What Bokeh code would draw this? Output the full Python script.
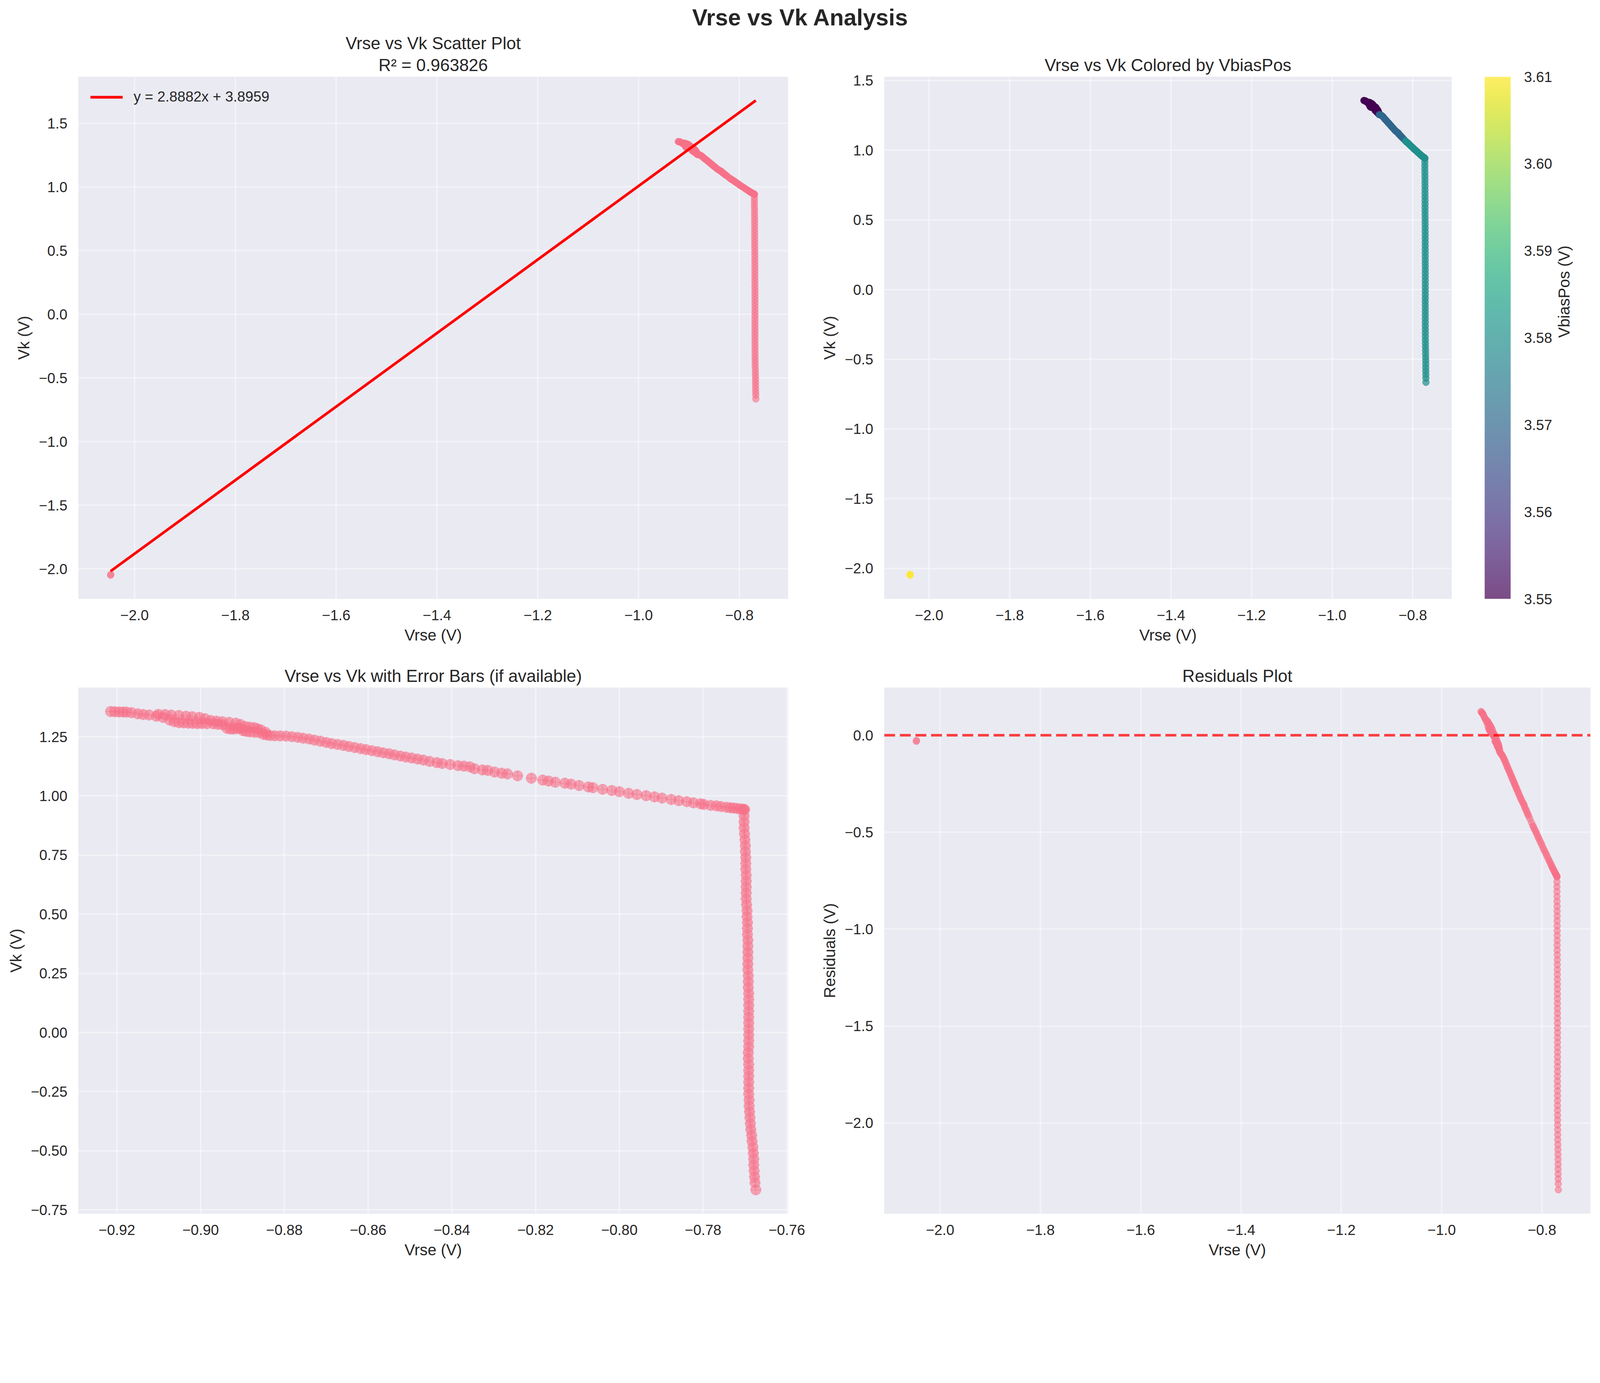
import math
import numpy as np
from bokeh.plotting import figure
from bokeh.layouts import column, row
from bokeh.models import Range1d, FixedTicker, Span, LinearColorMapper, Div, ColumnDataSource, Title
from bokeh.palettes import Viridis256
from bokeh.transform import linear_cmap
from bokeh.embed import file_html
from bokeh.resources import INLINE

# --- values --------------------------------------------------------------

# dense start of the sweep (two overlapping tracks)
cluster_vrse = [-0.9215, -0.9205, -0.9195, -0.9185, -0.9177, -0.9165, -0.9150, -0.9137, -0.9123, -0.9106,
                -0.9090, -0.9074, -0.9063, -0.9052, -0.9041, -0.9030, -0.9019, -0.9008, -0.8997, -0.8985,
                -0.8970, -0.8959, -0.8948, -0.8937, -0.8929, -0.8921, -0.8913, -0.8905, -0.8899, -0.8891,
                -0.8883, -0.8872, -0.8861, -0.8850, -0.8842,
                -0.9101, -0.9085, -0.9070, -0.9052, -0.9035, -0.9020, -0.9003, -0.8990, -0.8976, -0.8962,
                -0.8948, -0.8932, -0.8916, -0.8905, -0.8894, -0.8883, -0.8872, -0.8864, -0.8856, -0.8845]
cluster_vk = [1.357, 1.356, 1.355, 1.355, 1.3545, 1.352, 1.347, 1.344, 1.342, 1.337,
              1.332, 1.321, 1.314, 1.310, 1.309, 1.308, 1.307, 1.306, 1.306, 1.3055,
              1.305, 1.303, 1.301, 1.286, 1.283, 1.283, 1.285, 1.286, 1.276, 1.273,
              1.271, 1.269, 1.268, 1.260, 1.258,
              1.345, 1.344, 1.342, 1.340, 1.337, 1.335, 1.332, 1.327, 1.319, 1.316,
              1.314, 1.311, 1.308, 1.302, 1.294, 1.291, 1.289, 1.284, 1.279, 1.269]
cluster_bias = [3.55, 3.55, 3.55, 3.55, 3.55, 3.55, 3.55, 3.55, 3.55, 3.55,
                3.55, 3.55, 3.55, 3.55, 3.55, 3.55, 3.55, 3.55, 3.55, 3.55,
                3.55, 3.55, 3.55, 3.55, 3.55, 3.55, 3.55, 3.55, 3.55, 3.55,
                3.55, 3.55, 3.55, 3.55, 3.55,
                3.55, 3.55, 3.55, 3.55, 3.55, 3.55, 3.55, 3.55, 3.55, 3.55,
                3.55, 3.55, 3.55, 3.55, 3.55, 3.55, 3.55, 3.55, 3.55, 3.55]

# sloped part of the sweep
slope_vrse = [-0.8834, -0.8823, -0.8810, -0.8796, -0.8782, -0.8768, -0.8755, -0.8741, -0.8728, -0.8714,
              -0.8700, -0.8687, -0.8673, -0.8659, -0.8646, -0.8632, -0.8618, -0.8605, -0.8591, -0.8577,
              -0.8564, -0.8550, -0.8537, -0.8523, -0.8510, -0.8496, -0.8482, -0.8468, -0.8453, -0.8436,
              -0.8423, -0.8404, -0.8385, -0.8371, -0.8357, -0.8346, -0.8327, -0.8314, -0.8298, -0.8281,
              -0.8267, -0.8243, -0.8210]
slope_vk = [1.2555, 1.2543, 1.2536, 1.2528, 1.2505, 1.2477, 1.2443, 1.2406, 1.2360, 1.2314,
            1.2262, 1.2213, 1.2175, 1.2137, 1.2091, 1.2045, 1.2002, 1.1959, 1.1913, 1.1867,
            1.1824, 1.1781, 1.1735, 1.1689, 1.1646, 1.1603, 1.1560, 1.1516, 1.1460, 1.1410,
            1.1370, 1.1330, 1.1280, 1.1260, 1.1230, 1.1150, 1.1100, 1.1080, 1.1010, 1.0960,
            1.0930, 1.0850, 1.0750]
slope_bias = [3.57, 3.57, 3.57, 3.57, 3.57, 3.57, 3.57, 3.57, 3.57, 3.57,
              3.57, 3.57, 3.57, 3.57, 3.57, 3.57, 3.57, 3.57, 3.57, 3.57,
              3.57, 3.57, 3.57, 3.57, 3.57, 3.57, 3.57, 3.57, 3.57, 3.57,
              3.57, 3.57, 3.57, 3.57, 3.57, 3.57, 3.57, 3.57, 3.57, 3.57,
              3.57, 3.57, 3.57]

# approach to the knee
knee_vrse = [-0.8183, -0.8169, -0.8153, -0.8130, -0.8115, -0.8096, -0.8074, -0.8063, -0.8040, -0.8018,
             -0.8000, -0.7978, -0.7958, -0.7936, -0.7916, -0.7898, -0.7876, -0.7858, -0.7839, -0.7823,
             -0.7806, -0.7798, -0.7782, -0.7768, -0.7757, -0.7744, -0.7735, -0.7727, -0.7719, -0.7711,
             -0.7705, -0.7701]
knee_vk = [1.067, 1.063, 1.058, 1.054, 1.050, 1.044, 1.038, 1.035, 1.028, 1.023,
           1.018, 1.011, 1.006, 1.001, 0.996, 0.991, 0.985, 0.980, 0.976, 0.971,
           0.967, 0.964, 0.960, 0.958, 0.955, 0.952, 0.950, 0.949, 0.947, 0.945,
           0.944, 0.943]
knee_bias = [3.58, 3.58, 3.58, 3.58, 3.58, 3.58, 3.58, 3.58, 3.58, 3.58,
             3.58, 3.58, 3.58, 3.58, 3.58, 3.58, 3.58, 3.58, 3.58, 3.58,
             3.58, 3.58, 3.58, 3.58, 3.58, 3.58, 3.58, 3.58, 3.58, 3.58,
             3.58, 3.58]

# near-vertical drop
drop_vrse = [-0.7702, -0.7702, -0.7702, -0.7702, -0.7701, -0.7700, -0.7699, -0.7699, -0.7698, -0.7698,
             -0.7698, -0.7697, -0.7697, -0.7697, -0.7697, -0.7697, -0.7696, -0.7695, -0.7695, -0.7694,
             -0.7694, -0.7694, -0.7693, -0.7693, -0.7693, -0.7693, -0.7693, -0.7693, -0.7692, -0.7692,
             -0.7692, -0.7691, -0.7691, -0.7691, -0.7691, -0.7691, -0.7691, -0.7691, -0.7691, -0.7691,
             -0.7691, -0.7692, -0.7692, -0.7691, -0.7691, -0.7691, -0.7691, -0.7691, -0.7691, -0.7690,
             -0.7690, -0.7689, -0.7688, -0.7687, -0.7686, -0.7684, -0.7683, -0.7681, -0.7680, -0.7679,
             -0.7679, -0.7678, -0.7677, -0.7676, -0.7674]
drop_vk = [0.940, 0.915, 0.890, 0.865, 0.840, 0.815, 0.790, 0.765, 0.740, 0.715,
           0.690, 0.665, 0.640, 0.615, 0.590, 0.565, 0.540, 0.515, 0.490, 0.465,
           0.440, 0.415, 0.390, 0.365, 0.340, 0.315, 0.290, 0.265, 0.240, 0.215,
           0.190, 0.165, 0.140, 0.115, 0.090, 0.065, 0.040, 0.015, -0.010, -0.035,
           -0.060, -0.085, -0.110, -0.135, -0.160, -0.185, -0.210, -0.235, -0.260, -0.285,
           -0.310, -0.335, -0.360, -0.385, -0.410, -0.435, -0.460, -0.485, -0.510, -0.535,
           -0.560, -0.585, -0.610, -0.635, -0.665]
drop_bias = [3.58, 3.58, 3.58, 3.58, 3.58, 3.58, 3.58, 3.58, 3.58, 3.58,
             3.58, 3.58, 3.58, 3.58, 3.58, 3.58, 3.58, 3.58, 3.58, 3.58,
             3.58, 3.58, 3.58, 3.58, 3.58, 3.58, 3.58, 3.58, 3.58, 3.58,
             3.58, 3.58, 3.58, 3.58, 3.58, 3.58, 3.58, 3.58, 3.58, 3.58,
             3.58, 3.58, 3.58, 3.58, 3.58, 3.58, 3.58, 3.58, 3.58, 3.58,
             3.58, 3.58, 3.58, 3.58, 3.58, 3.58, 3.58, 3.58, 3.58, 3.58,
             3.58, 3.58, 3.58, 3.58, 3.58]

# lone outlier
outlier_vrse = [-2.0475, -2.0470]
outlier_vk = [-2.049, -2.043]
outlier_bias = [3.61, 3.61]

# fit shown in the legend
SLOPE = 2.8882
INTERCEPT = 3.8959
R2_TEXT = "0.963826"

# tick values
wide_x_ticks = [-2.0, -1.8, -1.6, -1.4, -1.2, -1.0, -0.8]
vk_ticks = [-2.0, -1.5, -1.0, -0.5, 0.0, 0.5, 1.0, 1.5]
zoom_x_ticks = [-0.92, -0.90, -0.88, -0.86, -0.84, -0.82, -0.80, -0.78, -0.76]
zoom_y_ticks = [-0.75, -0.50, -0.25, 0.0, 0.25, 0.50, 0.75, 1.00, 1.25]
resid_ticks = [-2.0, -1.5, -1.0, -0.5, 0.0]
bias_ticks = [3.55, 3.56, 3.57, 3.58, 3.59, 3.60, 3.61]

# --- styling ---------------------------------------------------------------
FONT = "Liberation Sans"
TEXT = "#262626"
BG = "#EAEAF2"
PINK = "#f77189"
TICK_PX = "37px"
LABEL_PX = "40.5px"
TITLE_PX = "44px"

vrse = cluster_vrse + slope_vrse + knee_vrse + drop_vrse + outlier_vrse
vk = cluster_vk + slope_vk + knee_vk + drop_vk + outlier_vk
vbias = cluster_bias + slope_bias + knee_bias + drop_bias + outlier_bias
resid = [y - (SLOPE * x + INTERCEPT) for x, y in zip(vrse, vk)]
src = ColumnDataSource(dict(vrse=vrse, vk=vk, vbias=vbias, resid=resid))

fit_x = [min(vrse), max(vrse)]
fit_y = [SLOPE * x + INTERCEPT for x in fit_x]


def padded(lo, hi, frac=0.05):
    d = (hi - lo) * frac
    return Range1d(lo - d, hi + d)


def add_title(p, text, standoff):
    p.add_layout(Title(text=text, align="center", text_font=FONT, text_font_size=TITLE_PX,
                       text_font_style="normal", text_color=TEXT, standoff=standoff), "above")


def make_fig(width, height, left, right, top, bottom, x_range, y_range, title=None):
    p = figure(width=width, height=height, x_range=x_range, y_range=y_range,
               output_backend="svg", toolbar_location=None, title=None,
               min_border_left=left, min_border_right=right,
               min_border_top=top, min_border_bottom=bottom)
    if title:
        add_title(p, title, 12)
    p.background_fill_color = BG
    p.outline_line_color = None
    p.grid.grid_line_color = "white"
    p.grid.grid_line_alpha = 0.45
    p.grid.grid_line_width = 3.7
    return p


def style_axes(p, xticks, yticks, xfmt, yfmt, xlabel, ylabel):
    for ax, ticks, fmt in ((p.xaxis[0], xticks, xfmt), (p.yaxis[0], yticks, yfmt)):
        ax.ticker = FixedTicker(ticks=ticks)
        ax.major_label_overrides = {t: (fmt % t).replace("-", "\u2212") for t in ticks}
        ax.axis_line_color = None
        ax.major_tick_line_color = None
        ax.minor_tick_line_color = None
        ax.major_label_text_font = FONT
        ax.major_label_text_font_size = TICK_PX
        ax.major_label_text_color = TEXT
        ax.major_label_standoff = 22
        ax.axis_label_text_font = FONT
        ax.axis_label_text_font_size = LABEL_PX
        ax.axis_label_text_font_style = "normal"
        ax.axis_label_text_color = TEXT
        ax.axis_label_standoff = 12
    p.xaxis.axis_label = xlabel
    p.yaxis.axis_label = ylabel


# --- top left: scatter with fit ----------------------------------------------
p1 = make_fig(2090, 1569, 200, 73, 114, 109, padded(min(vrse), max(vrse)),
              padded(min(vk + fit_y), max(vk + fit_y)))
add_title(p1, "R\u00b2 = " + R2_TEXT, 11)
add_title(p1, "Vrse vs Vk Scatter Plot", 0)
p1.scatter("vrse", "vk", source=src, size=17.5, fill_color=PINK, line_color=PINK,
           fill_alpha=0.6, line_alpha=0.6)
p1.line(fit_x, fit_y, line_color="red", line_width=6.9,
        legend_label="y = %.4fx + %.4f" % (SLOPE, INTERCEPT))
p1.legend.location = "top_left"
p1.legend.background_fill_alpha = 0
p1.legend.border_line_alpha = 0
p1.legend.label_text_font = FONT
p1.legend.label_text_font_size = TICK_PX
p1.legend.label_text_color = TEXT
p1.legend.glyph_width = 83
p1.legend.glyph_height = 37
p1.legend.label_standoff = 28
p1.legend.margin = 20
p1.legend.padding = 11
style_axes(p1, wide_x_ticks, vk_ticks, "%.1f", "%.1f", "Vrse (V)", "Vk (V)")

# --- top right: coloured by VbiasPos -------------------------------------------
mapper = LinearColorMapper(palette=Viridis256, low=bias_ticks[0], high=bias_ticks[-1])
p2 = make_fig(1644, 1569, 173, 18, 114, 109, padded(min(vrse), max(vrse)),
              padded(min(vk), max(vk)), "Vrse vs Vk Colored by VbiasPos")
cmap = linear_cmap("vbias", Viridis256, bias_ticks[0], bias_ticks[-1])
p2.scatter("vrse", "vk", source=src, size=17.5, fill_color=cmap, line_color=cmap,
           fill_alpha=0.7, line_alpha=0.7)
style_axes(p2, wide_x_ticks, vk_ticks, "%.1f", "%.1f", "Vrse (V)", "Vk (V)")

# colour bar as its own slim figure
pc = figure(width=362, height=1569, x_range=Range1d(0, 1),
            y_range=Range1d(bias_ticks[0], bias_ticks[-1]), y_axis_location="right",
            output_backend="svg", toolbar_location=None,
            min_border_left=66, min_border_right=229, min_border_top=114, min_border_bottom=109)
grad = np.linspace(bias_ticks[0], bias_ticks[-1], 256).reshape(256, 1)
pc.image(image=[grad], x=0, y=bias_ticks[0], dw=1, dh=bias_ticks[-1] - bias_ticks[0],
         color_mapper=mapper, global_alpha=0.7)
pc.xaxis.visible = False
pc.grid.visible = False
pc.outline_line_color = None
cax = pc.yaxis[0]
cax.ticker = FixedTicker(ticks=bias_ticks)
cax.major_label_overrides = {t: "%.2f" % t for t in bias_ticks}
cax.axis_line_color = None
cax.major_tick_line_color = None
cax.minor_tick_line_color = None
cax.major_label_text_font = FONT
cax.major_label_text_font_size = TICK_PX
cax.major_label_text_color = TEXT
cax.major_label_standoff = 28
cax.axis_label = "VbiasPos (V)"
cax.axis_label_text_font = FONT
cax.axis_label_text_font_size = LABEL_PX
cax.axis_label_text_font_style = "normal"
cax.axis_label_text_color = TEXT
cax.axis_label_standoff = 27
try:
    cax.axis_label_orientation = math.pi / 2
except Exception:
    pass

# --- bottom left: zoomed view with error-bar markers ---------------------------
main = ColumnDataSource(dict(vrse=vrse[:-2], vk=vk[:-2]))
p3 = make_fig(2090, 1586, 200, 73, 109, 130, padded(min(vrse[:-2]), max(vrse[:-2])),
              padded(min(vk[:-2]), max(vk[:-2])), "Vrse vs Vk with Error Bars (if available)")
p3.scatter("vrse", "vk", source=main, marker="circle", size=28, fill_color=PINK,
           fill_alpha=0.6, line_color=None)
p3.scatter("vrse", "vk", source=main, marker="cross", size=28, line_color=PINK,
           line_alpha=0.45, line_width=2.6)
style_axes(p3, zoom_x_ticks, zoom_y_ticks, "%.2f", "%.2f", "Vrse (V)", "Vk (V)")

# --- bottom right: residuals ---------------------------------------------------
p4 = make_fig(1996, 1586, 173, 15, 109, 130, padded(min(vrse), max(vrse)),
              padded(min(resid), max(resid)), "Residuals Plot")
p4.scatter("vrse", "resid", source=src, size=17.5, fill_color=PINK, line_color=PINK,
           fill_alpha=0.6, line_alpha=0.6)
p4.add_layout(Span(location=0, dimension="width", line_color="red", line_alpha=0.75,
                   line_width=6.4, line_dash="28 12"))
style_axes(p4, wide_x_ticks, resid_ticks, "%.1f", "%.1f", "Vrse (V)", "Residuals (V)")

# --- page --------------------------------------------------------------------
head = Div(text='<div style="font-family:\'Liberation Sans\';font-size:59px;line-height:59px;'
                'font-weight:bold;color:#262626;text-align:center;width:4096px;'
                'position:relative;top:16px;">Vrse vs Vk Analysis</div>',
           width=4096, height=82, margin=(0, 0, 0, 0))

layout = column(head, row(p1, p2, pc), row(p3, p4))
open("out.html", "w").write(file_html(layout, INLINE))
